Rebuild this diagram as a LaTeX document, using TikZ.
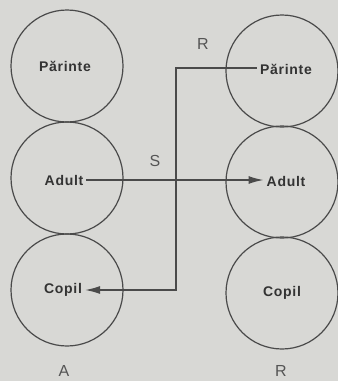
\documentclass[tikz,border=0pt]{standalone}
\usepackage{fontspec}
\usetikzlibrary{arrows.meta}
\newfontfamily\lblfont[LetterSpace=5]{Liberation Sans}
\newfontfamily\capfont{Liberation Sans}
\definecolor{bgc}{HTML}{D8D8D5}
\definecolor{inkc}{HTML}{4A4A4A}
\definecolor{txtc}{HTML}{333333}
\definecolor{letc}{HTML}{555555}
\tikzset{
  ego/.style={circle, draw=inkc, line width=1.2pt, minimum size=112pt, inner sep=0pt},
  txt/.style={font=\lblfont\bfseries\fontsize{14}{14}\selectfont, text=txtc, inner sep=3pt},
  letter/.style={font=\capfont\fontsize{16}{16}\selectfont, text=letc, inner sep=0pt},
  conn/.style={draw=inkc, line width=1.4pt},
  arr/.style={conn, -{Latex[length=15pt,width=8pt]}}
}
\begin{document}
\begin{tikzpicture}[x=1pt,y=-1pt]
\fill[bgc] (0,0) rectangle (338,381);
\useasboundingbox (0,0) rectangle (338,381);
% left column
\node[ego] (AP) at (67,66) {};
\node[ego] (AA) at (67,178) {};
\node[ego] (AC) at (67,290) {};
% right column
\node[ego] (BP) at (282,71) {};
\node[ego] (BA) at (282,182) {};
\node[ego] (BC) at (282,293) {};
% texts
\node[txt] (tAP) at (65,66) {Părinte};
\node[txt] (tAA) at (64,180) {Adult};
\node[txt] (tAC) at (63,290) {Copil};
\node[txt] (tBP) at (286,69) {Părinte};
\node[txt] (tBA) at (286,181) {Adult};
\node[txt] (tBC) at (282,293) {Copil};
% letters
\node[letter] (R1) at (203,44) {R};
\node[letter] (S1) at (155,161) {S};
\node[letter] (A1) at (64,371) {A};
\node[letter] (R2) at (281,371) {R};
% connectors
\draw[arr] (tAA.east) -- (tBA.west |- tAA.east);
\coordinate (k1) at (176,68);
\draw[arr] (tBP.west |- k1) -- (k1) |- (tAC.east);
\end{tikzpicture}
\end{document}
